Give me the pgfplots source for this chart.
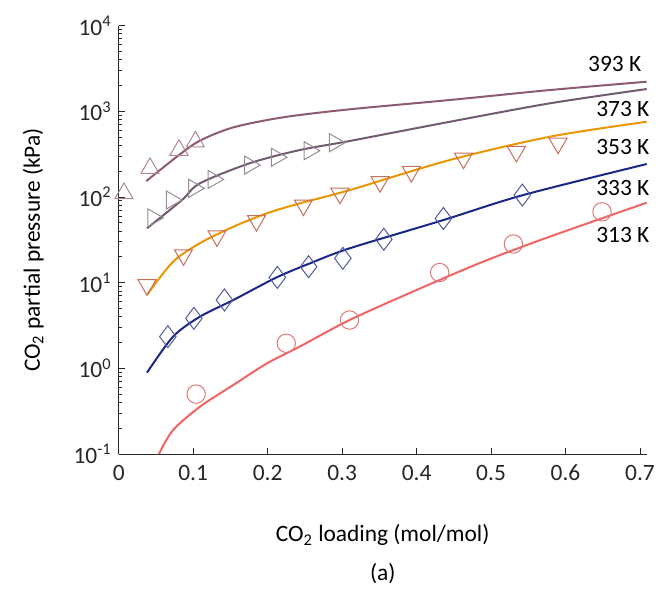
\documentclass[border=0pt]{standalone}
\usepackage{pgfplots}
\pgfplotsset{compat=1.18}
\usepackage{fontspec}
\setmainfont{Carlito}

\definecolor{c393}{RGB}{140,90,115}
\definecolor{m393}{RGB}{175,135,150}
\definecolor{c373}{RGB}{115,90,115}
\definecolor{m373}{RGB}{150,140,150}
\definecolor{c353}{RGB}{235,150,0}
\definecolor{m353}{RGB}{200,110,90}
\definecolor{c333}{RGB}{25,40,135}
\definecolor{m333}{RGB}{80,90,155}
\definecolor{c313}{RGB}{240,100,100}
\definecolor{m313}{RGB}{225,120,120}

\begin{document}
\begin{tikzpicture}[font=\fontsize{11.7}{14}\selectfont]
\begin{axis}[
  name=ax,
  scale only axis,
  width=264pt, height=214.25pt,
  ymode=log,
  xmin=0, xmax=0.709,
  ymin=0.1, ymax=10000,
  axis lines*=left,
  axis line style={line width=0.5pt, black!85},
  tick align=inside,
  major tick length=3pt,
  minor tick length=1.8pt,
  tick style={black!85, line width=0.4pt},
  xtick={0,0.1,0.2,0.3,0.4,0.5,0.6,0.7},
  xticklabels={0,0.1,0.2,0.3,0.4,0.5,0.6,0.7},
  ytick={0.1,1,10,100,1000,10000},
  yticklabels={10\textsuperscript{-1},10\textsuperscript{0},10\textsuperscript{1},10\textsuperscript{2},10\textsuperscript{3},10\textsuperscript{4}},
  minor ytick={0.2,0.3,0.4,0.5,0.6,0.7,0.8,0.9,2,3,4,5,6,7,8,9,20,30,40,50,60,70,80,90,200,300,400,500,600,700,800,900,2000,3000,4000,5000,6000,7000,8000,9000},
  tick label style={font=\fontsize{11.7}{14}\selectfont, text=black!85},
  xticklabel style={yshift=-2pt},
  /pgf/number format/assume math mode=true,
  xlabel={CO\textsubscript{2} loading (mol/mol)},
  ylabel={CO\textsubscript{2} partial pressure (kPa)},
  xlabel style={at={(axis description cs:0.5,-0.189)}, anchor=center, font=\fontsize{11.7}{14}\selectfont},
  ylabel style={at={(axis description cs:-0.162,0.476)}, anchor=center, font=\fontsize{11.7}{14}\selectfont},
  clip=false,
]
% 393 K
\addplot[c393, line width=1pt, no marks, smooth] coordinates {
(0.037,153) (0.081,308) (0.109,453) (0.154,648) (0.221,849) (0.310,1052) (0.445,1352) (0.579,1766) (0.709,2208)};
\addplot[only marks, mark=triangle, mark size=5.2pt, mark options={draw=m393, line width=0.5pt}] coordinates {
(0.007,110) (0.042,216) (0.081,352) (0.103,440)};
% 373 K
\addplot[c373, line width=1pt, no marks, smooth] coordinates {
(0.038,43) (0.085,92) (0.109,144) (0.176,247) (0.243,352) (0.310,449) (0.445,754) (0.579,1236) (0.709,1815)};
\addplot[only marks, mark=triangle, mark size=5.2pt, mark options={draw=m373, line width=0.5pt, rotate=-90}] coordinates {
(0.046,57) (0.071,92) (0.101,126) (0.127,160) (0.176,235) (0.212,290) (0.256,346) (0.290,429)};
% 353 K
\addplot[c353, line width=1pt, no marks, smooth] coordinates {
(0.038,7.2) (0.073,17.5) (0.109,28.8) (0.154,44.9) (0.199,64.4) (0.243,84) (0.310,120) (0.445,270) (0.579,504) (0.709,754)};
\addplot[only marks, mark=triangle, mark size=5.2pt, mark options={draw=m353, line width=0.5pt, rotate=180}] coordinates {
(0.038,9.4) (0.087,21) (0.132,35) (0.185,52.7) (0.248,80) (0.297,110) (0.351,150) (0.393,197) (0.463,282) (0.534,337) (0.590,422)};
% 333 K
\addplot[c333, line width=1pt, no marks, smooth] coordinates {
(0.038,0.89) (0.073,2.34) (0.109,4.0) (0.154,6.27) (0.212,11.5) (0.257,16.8) (0.310,25.1) (0.436,53.7) (0.543,105) (0.709,242)};
\addplot[only marks, mark=diamond, mark size=5.5pt, mark options={draw=m333, line width=0.5pt}] coordinates {
(0.066,2.34) (0.101,3.83) (0.142,6.27) (0.213,11.5) (0.255,15.3) (0.301,19.2) (0.356,32) (0.436,56) (0.542,105)};
% 313 K
\addplot[c313, line width=1pt, no marks, smooth] coordinates {
(0.054,0.1) (0.073,0.19) (0.109,0.356) (0.154,0.64) (0.199,1.14) (0.243,1.79) (0.310,3.66) (0.400,8.2) (0.489,17.5) (0.579,34.4) (0.709,85.5)};
\addplot[only marks, mark=o, mark size=4.6pt, mark options={draw=m313, line width=0.5pt}] coordinates {
(0.104,0.50) (0.225,1.96) (0.310,3.66) (0.431,13.1) (0.530,28.2) (0.649,67)};
% labels
\node[anchor=center] at (axis cs:0.666,3556) {393 K};
\node[anchor=center] at (axis cs:0.677,1062) {373 K};
\node[anchor=center] at (axis cs:0.677,382) {353 K};
\node[anchor=center] at (axis cs:0.677,128) {333 K};
\node[anchor=center] at (axis cs:0.677,36) {313 K};
\node[anchor=center] at (axis description cs:0.5,-0.278) {(a)};
\end{axis}
\pgfresetboundingbox
\path[use as bounding box] ([xshift=-59.35pt, yshift=-71pt]ax.south west) rectangle ([xshift=12.15pt, yshift=12.75pt]ax.north east);
\end{tikzpicture}
\end{document}
